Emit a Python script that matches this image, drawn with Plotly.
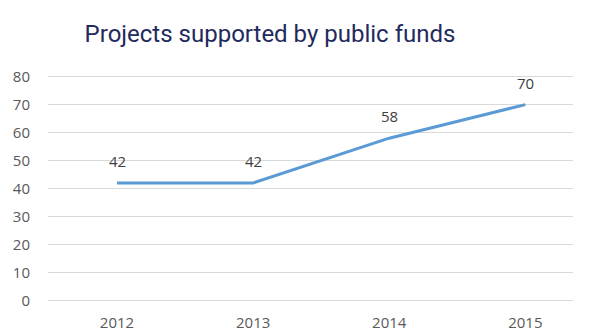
import plotly.graph_objects as go

years = ["2012", "2013", "2014", "2015"]
projects = [42, 42, 58, 70]
y_ticks = [0, 10, 20, 30, 40, 50, 60, 70, 80]

label_font = dict(family="Open Sans, Liberation Sans, sans-serif", size=15, color="#404040")
tick_font = dict(family="Open Sans, Liberation Sans, sans-serif", size=15, color="#595959")

xs = list(range(len(years)))

fig = go.Figure()
fig.add_trace(go.Scatter(
    x=xs,
    y=projects,
    mode="lines",
    line=dict(color="#5b9bd5", width=3),
    hoverinfo="skip",
))

# value labels sitting above each point
for x, v in zip(xs, projects):
    fig.add_annotation(
        x=x, y=v, text=str(v), showarrow=False,
        yshift=22, font=label_font,
    )

fig.update_layout(
    width=589, height=332,
    margin=dict(l=48, r=16, t=75, b=30),
    paper_bgcolor="white", plot_bgcolor="white",
    showlegend=False,
    title=dict(
        text="Projects supported by public funds",
        x=270 / 589, xanchor="center", y=0.9, yanchor="middle",
        font=dict(family="Liberation Sans Narrow, Arial Narrow, Roboto, sans-serif", size=24, color="#1f2a5e"),
    ),
)
fig.update_xaxes(
    tickmode="array", tickvals=xs, ticktext=years,
    range=[-0.507, 3.35], showgrid=False, zeroline=False, showline=False,
    ticks="outside", ticklen=7, tickcolor="rgba(0,0,0,0)",
    tickfont=tick_font, automargin=False,
)
fig.update_yaxes(
    range=[-0.6, 80.6], tickvals=y_ticks, showgrid=True, gridcolor="#d9d9d9", gridwidth=1,
    zeroline=False, showline=False,
    ticks="outside", ticklen=14, tickcolor="rgba(0,0,0,0)",
    tickfont=tick_font, automargin=False,
)

fig.write_html("out.html")
